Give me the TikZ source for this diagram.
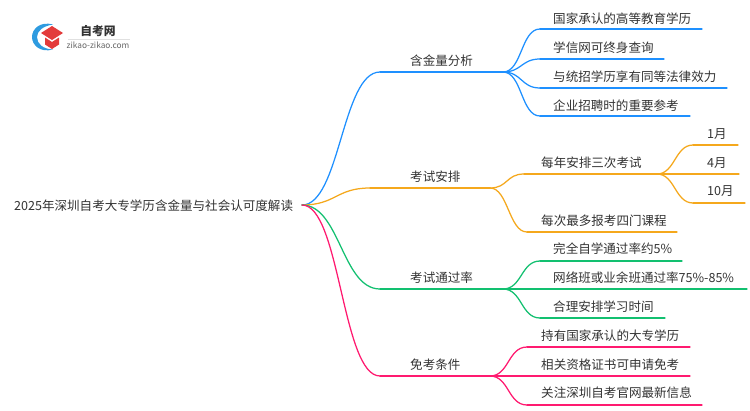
\documentclass[tikz,border=0pt]{standalone}
\usepackage{fontspec}
\setmainfont{Noto Sans CJK SC}
\definecolor{cblue}{HTML}{1E90FF}
\definecolor{corange}{HTML}{F5A81C}
\definecolor{cgreen}{HTML}{12C070}
\definecolor{cpink}{HTML}{FF1A70}
\definecolor{ctxt}{HTML}{333333}
\definecolor{cred}{HTML}{E33B3B}
\definecolor{clogo}{HTML}{2E9BE0}
\tikzset{
  lbl/.style={anchor=west,inner sep=0pt,yshift=-0.7pt,text=ctxt,font=\fontsize{12.55}{14}\selectfont},
  wire/.style={line width=1.25pt,line cap=round},
  pt/.style={inner sep=0pt,minimum size=0pt}
}
\newcommand{\cv}[4][24]{%
  \draw[wire,#2] (#3) .. controls +(#1,0) and +(-#1,0) .. (#4);}
\begin{document}
\begin{tikzpicture}[x=1pt,y=-1pt]
\useasboundingbox (0,0) rectangle (750,410);
\fill[white] (0,0) rectangle (750,410);
% logo
\fill[clogo] (53,24.5) .. controls (40,21) and (32,29) .. (32,37) .. controls (32,45) and (40,53) .. (53,49.5) .. controls (43,49) and (37,44) .. (37,37) .. controls (37,31) and (43,26) .. (53,24.5) -- cycle;
\fill[cred] (52,26) -- (63,33) -- (52,40) -- (41,33) -- cycle;
\fill[cred] (45,37.5) -- (52,42) -- (59,37.5) -- (59,44.5) -- (52,49) -- (45,44.5) -- cycle;
\node[pt,font=\bfseries\fontsize{11.8}{12}\selectfont,text=ctxt] (logoa) at (98,31) {自考网};
\draw[black!12,line width=.6pt] (68,39) -- (130,39);
\node[pt,font=\fontsize{8.3}{9}\selectfont,text=black!60] (logob) at (98,45) {zikao-zikao.com};
% root
\node[lbl] (root) at (14,205) {2025年深圳自考大专学历含金量与社会认可度解读};
\coordinate (hub) at (302,205);
% level-1 points
\coordinate (b0) at (380,72);  \coordinate (b1) at (503,72);
\coordinate (o0) at (370,188); \coordinate (o1) at (490,188);
\coordinate (g0) at (380,289); \coordinate (g1) at (503,289);
\coordinate (p0) at (380,376); \coordinate (p1) at (490,376);
\node[lbl] at (410,60) (nb) {含金量分析};
\node[lbl] at (410,176) (no) {考试安排};
\node[lbl] at (410,277) (ng) {考试通过率};
\node[lbl] at (410,364) (np) {免考条件};
\cv[38]{cblue}{hub}{b0}  \draw[wire,cblue] (b0) -- (b1);
\cv[34]{corange}{hub}{o0}\draw[wire,corange] (o0) -- (o1);
\cv[38]{cgreen}{hub}{g0} \draw[wire,cgreen] (g0) -- (g1);
\cv[38]{cpink}{hub}{p0}  \draw[wire,cpink] (p0) -- (p1);
% blue children
\coordinate (b2a) at (540,29);\coordinate (b2ae) at (702,29);
\coordinate (b2b) at (540,59);\coordinate (b2be) at (664,59);
\coordinate (b2c) at (540,88);\coordinate (b2ce) at (727,88);
\coordinate (b2d) at (540,116);\coordinate (b2de) at (690,116);
\node[lbl] (t1) at (553,18) {国家承认的高等教育学历};
\node[lbl] (t2) at (553,47) {学信网可终身查询};
\node[lbl] (t3) at (553,76) {与统招学历享有同等法律效力};
\node[lbl] (t4) at (553,105) {企业招聘时的重要参考};
\foreach \n in {a,b,c,d}{\cv[19]{cblue}{b1}{b2\n}\draw[wire,cblue] (b2\n) -- (b2\n e);}
% orange children
\coordinate (o2a) at (524,174);\coordinate (o2ae) at (657,174);
\coordinate (o2b) at (527,232);\coordinate (o2be) at (677,232);
\node[lbl] (t5) at (541,162) {每年安排三次考试};
\node[lbl] (t6) at (541,220) {每次最多报考四门课程};
\foreach \n in {a,b}{\cv[18]{corange}{o1}{o2\n}\draw[wire,corange] (o2\n) -- (o2\n e);}
\coordinate (m0) at (693,145);\coordinate (m0e) at (738,145);
\coordinate (m1) at (693,174);\coordinate (m1e) at (739,174);
\coordinate (m2) at (693,203);\coordinate (m2e) at (745,203);
\node[lbl] (t7) at (707,133) {1月};
\node[lbl] (t8) at (707,162) {4月};
\node[lbl] (t9) at (707,190) {10月};
\foreach \n in {0,1,2}{\cv[18]{corange}{o2ae}{m\n}\draw[wire,corange] (m\n) -- (m\n e);}
% green children
\coordinate (g2a) at (540,261);\coordinate (g2ae) at (682,261);
\coordinate (g2b) at (540,289);\coordinate (g2be) at (747,289);
\coordinate (g2c) at (540,318);\coordinate (g2ce) at (665,318);
\node[lbl] (t10) at (553,248) {完全自学通过率约5\%};
\node[lbl] (t11) at (553,277) {网络班或业余班通过率75\%-85\%};
\node[lbl] (t12) at (553,306) {合理安排学习时间};
\foreach \n in {a,b,c}{\cv[19]{cgreen}{g1}{g2\n}\draw[wire,cgreen] (g2\n) -- (g2\n e);}
% pink children
\coordinate (p2a) at (527,347);\coordinate (p2ae) at (690,347);
\coordinate (p2b) at (527,376);\coordinate (p2be) at (690,376);
\coordinate (p2c) at (527,405);\coordinate (p2ce) at (702,405);
\node[lbl] (t13) at (541,335) {持有国家承认的大专学历};
\node[lbl] (t14) at (541,364) {相关资格证书可申请免考};
\node[lbl] (t15) at (541,392) {关注深圳自考官网最新信息};
\foreach \n in {a,b,c}{\cv[19]{cpink}{p1}{p2\n}\draw[wire,cpink] (p2\n) -- (p2\n e);}
\end{tikzpicture}
\end{document}
